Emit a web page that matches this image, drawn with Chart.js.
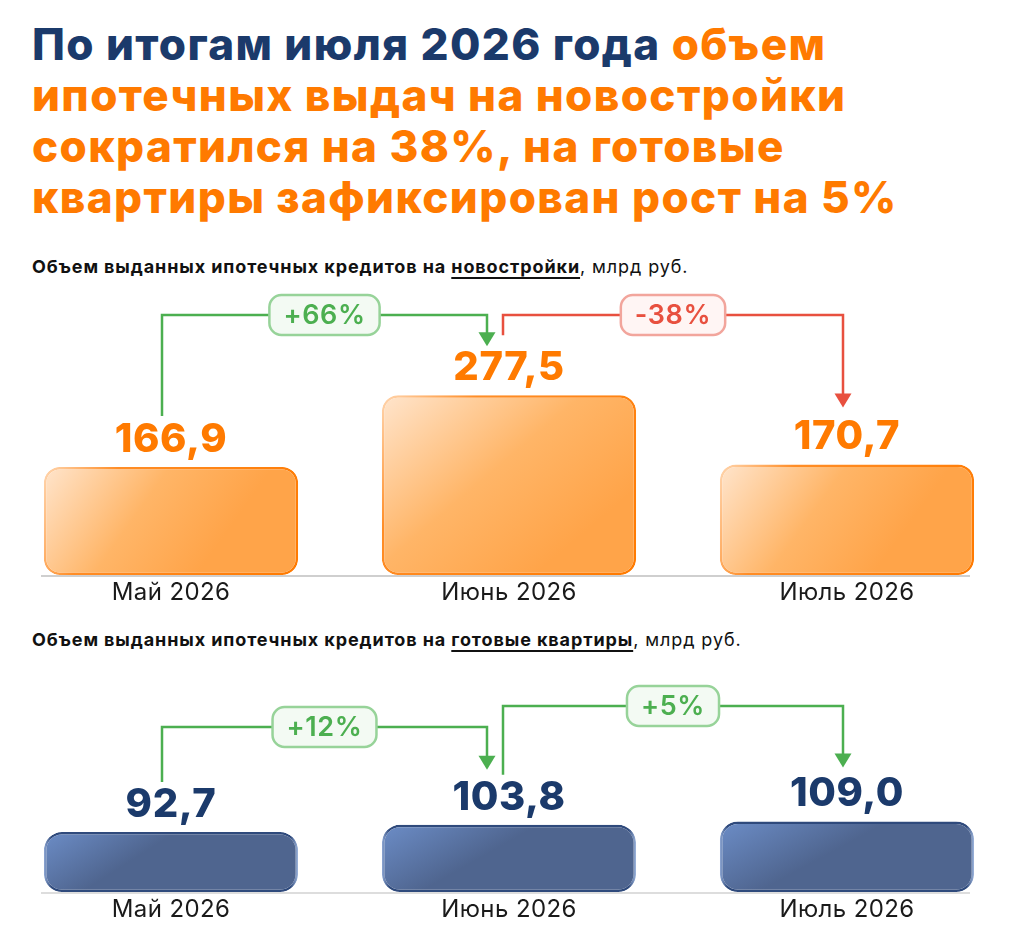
<!DOCTYPE html>
<html><head><meta charset="utf-8">
<script src="https://cdn.jsdelivr.net/npm/chart.js@4.4.0/dist/chart.umd.min.js"></script>
<style>
html,body{margin:0;padding:0;background:#fff;overflow:hidden;width:1009px;height:943px;font-family:Inter,sans-serif;}
#title{position:absolute;left:32px;top:19px;font-size:44px;line-height:51px;font-weight:800;color:#1b3a6b;white-space:nowrap;letter-spacing:1.4px}
#title .o{color:#ff7a00}
.sub{position:absolute;left:32px;font-size:18px;line-height:22px;color:#111;white-space:nowrap;letter-spacing:0.9px}
.sub b{font-weight:700}
.sub u{text-decoration-thickness:2px;text-underline-offset:4px}
canvas{position:absolute;left:0}
</style></head>
<body>
<div id="title">По итогам июля 2026 года <span class="o">объем</span><br><span class="o">ипотечных выдач на новостройки<br>сократился на 38%, на готовые<br>квартиры зафиксирован рост на 5%</span></div>
<div class="sub" style="top:256px"><b>Объем выданных ипотечных кредитов на <u>новостройки</u></b>, млрд руб.</div>
<div class="sub" style="top:629px"><b>Объем выданных ипотечных кредитов на <u>готовые квартиры</u></b>, млрд руб.</div>
<canvas id="c1" width="1016" height="327" style="top:280px"></canvas>
<canvas id="c2" width="1016" height="252" style="top:672px"></canvas>
<script>
// ---- data ----
const categories = ['Май 2026', 'Июнь 2026', 'Июль 2026'];
const newBuildValues = [166.9, 277.5, 170.7];
const readyValues = [92.7, 103.8, 109.0];
const newBuildChanges = ['+66%', '-38%'];
const readyChanges = ['+12%', '+5%'];

const GREEN = '#4caf50', RED = '#e8503f';
const fmt = v => v.toFixed(1).replace('.', ',');

function barGeom(chart, i, v) {
  const xs = chart.scales.x, ys = chart.scales.y;
  const cx = xs.getPixelForValue(i);
  const w = xs.getPixelForValue(1) - xs.getPixelForValue(0);
  const bw = w * 0.752;
  return {x0: cx - bw / 2, x1: cx + bw / 2, y0: ys.getPixelForValue(v), y1: ys.getPixelForValue(0)};
}

const orangeFill = ctx => {
  const ch = ctx.chart;
  if (!ch.chartArea || ctx.dataIndex === undefined) return '#ffb060';
  const g = barGeom(ch, ctx.dataIndex, ctx.raw);
  const gr = ch.ctx.createLinearGradient(g.x0, g.y0, g.x0 + (g.x1 - g.x0) * 0.6, g.y1);
  gr.addColorStop(0, '#ffe5cd'); gr.addColorStop(0.55, '#ffb567'); gr.addColorStop(1, '#ffa449');
  return gr;
};
const orangeBorder = ctx => {
  const ch = ctx.chart;
  if (!ch.chartArea || ctx.dataIndex === undefined) return '#ff8a1f';
  const g = barGeom(ch, ctx.dataIndex, ctx.raw);
  const gr = ch.ctx.createLinearGradient(g.x0, g.y0, g.x1, g.y1);
  gr.addColorStop(0, '#ffd6b0'); gr.addColorStop(0.25, '#ff8d26'); gr.addColorStop(1, '#ff7a00');
  return gr;
};
const blueFill = ctx => {
  const ch = ctx.chart;
  if (!ch.chartArea || ctx.dataIndex === undefined) return '#5a75a8';
  const g = barGeom(ch, ctx.dataIndex, ctx.raw);
  const gr = ch.ctx.createLinearGradient(g.x0, g.y0, g.x0 + (g.x1 - g.x0) * 0.15, g.y1);
  gr.addColorStop(0, '#6c8dc7'); gr.addColorStop(1, '#4f658f');
  return gr;
};
const blueBorder = ctx => {
  const ch = ctx.chart;
  if (!ch.chartArea || ctx.dataIndex === undefined) return '#2f4a7c';
  const g = barGeom(ch, ctx.dataIndex, ctx.raw);
  const gr = ch.ctx.createLinearGradient(g.x0, 0, g.x1, 0);
  gr.addColorStop(0, '#8fa8d4'); gr.addColorStop(0.03, '#2f4a7c'); gr.addColorStop(0.97, '#2f4a7c'); gr.addColorStop(1, '#9fb6dd');
  return gr;
};

const annotPlugin = {
  id: 'annot',
  beforeDraw(chart) { chart.ctx.letterSpacing = '0.4px'; },
  beforeDatasetsDraw(chart, args, o) {
    const c = chart.ctx, b = chart.chartArea.bottom + 1;
    c.save(); c.strokeStyle = o.axisColor; c.lineWidth = 2;
    c.beginPath(); c.moveTo(41, b); c.lineTo(970, b); c.stroke(); c.restore();
  },
  afterDatasetsDraw(chart, args, o) {
    const c = chart.ctx, meta = chart.getDatasetMeta(0), ds = chart.data.datasets[0].data;
    c.save();
    c.letterSpacing = '0.6px';
    c.font = '800 40px Inter'; c.fillStyle = o.valueColor; c.textAlign = 'center'; c.textBaseline = 'alphabetic';
    meta.data.forEach((bar, i) => c.fillText(fmt(ds[i]), bar.x, bar.y - 15));
    o.connectors.forEach(k => {
      const a = meta.data[k.from], t = meta.data[k.to];
      const sx = a.x + k.sx, sy = a.y - k.startLift;
      const tx = t.x + k.tx, ty = t.y - k.tipGap;
      const ly = k.level;
      c.strokeStyle = k.color; c.fillStyle = k.color; c.lineWidth = 2.5; c.lineJoin = 'miter';
      c.beginPath(); c.moveTo(sx, sy); c.lineTo(sx, ly); c.lineTo(tx, ly); c.lineTo(tx, ty - 10); c.stroke();
      c.beginPath(); c.moveTo(tx - 8.5, ty - 14); c.lineTo(tx + 8.5, ty - 14); c.lineTo(tx, ty); c.closePath(); c.fill();
      c.font = '600 27px Inter'; c.letterSpacing = '0.6px';
      const tw = c.measureText(k.text).width, w = tw + 28, h = 40, mx = (sx + tx) / 2;
      c.beginPath(); c.roundRect(mx - w / 2, ly - h / 2, w, h, 12);
      c.fillStyle = k.bg; c.fill(); c.strokeStyle = k.border; c.lineWidth = 2.5; c.stroke();
      c.fillStyle = k.color; c.textAlign = 'center'; c.textBaseline = 'middle';
      c.fillText(k.text, mx, ly + 1);
    });
    c.restore();
  }
};

function makeChart(id, values, yMax, fill, border, radius, valueColor, axisColor, connectors) {
  return new Chart(document.getElementById(id), {
    type: 'bar',
    data: {labels: categories, datasets: [{data: values, backgroundColor: fill, borderColor: border,
      borderWidth: 2.5, borderRadius: radius, borderSkipped: false, categoryPercentage: 1, barPercentage: 0.752}]},
    options: {
      responsive: false, animation: false, devicePixelRatio: 1,
      layout: {padding: {left: 2, right: 0, top: id === 'c1' ? 10 : 0, bottom: 0}},
      plugins: {legend: {display: false}, tooltip: {enabled: false},
        annot: {valueColor, axisColor, connectors}},
      scales: {
        x: {grid: {display: false, drawTicks: false}, border: {display: false},
          ticks: {color: '#1a1a1a', font: {family: 'Inter', size: 24}, padding: 3},
          afterFit: s => { s.height = 32; }},
        y: {display: false, min: 0, max: yMax}
      }
    },
    plugins: [annotPlugin]
  });
}

const greenBox = {color: GREEN, bg: '#f3faf3', border: '#97d399'};
const redBox = {color: RED, bg: '#fff5f4', border: '#f2a59c'};

makeChart('c1', newBuildValues, 440, orangeFill, orangeBorder, 16, '#ff7a00', '#cfcfcf', [
  Object.assign({from: 0, to: 1, text: newBuildChanges[0], sx: -9, tx: -22, startLift: 51, tipGap: 49, level: 35}, greenBox),
  Object.assign({from: 1, to: 2, text: newBuildChanges[1], sx: -6, tx: -4, startLift: 60, tipGap: 57, level: 35}, redBox)
]);
makeChart('c2', readyValues, 340, blueFill, blueBorder, 18, '#1b3a6b', '#dddddd', [
  Object.assign({from: 0, to: 1, text: readyChanges[0], sx: -9, tx: -22, startLift: 50, tipGap: 55, level: 55}, greenBox),
  Object.assign({from: 1, to: 2, text: readyChanges[1], sx: -6, tx: -4, startLift: 50, tipGap: 54, level: 34}, greenBox)
]);
</script>
</body></html>
